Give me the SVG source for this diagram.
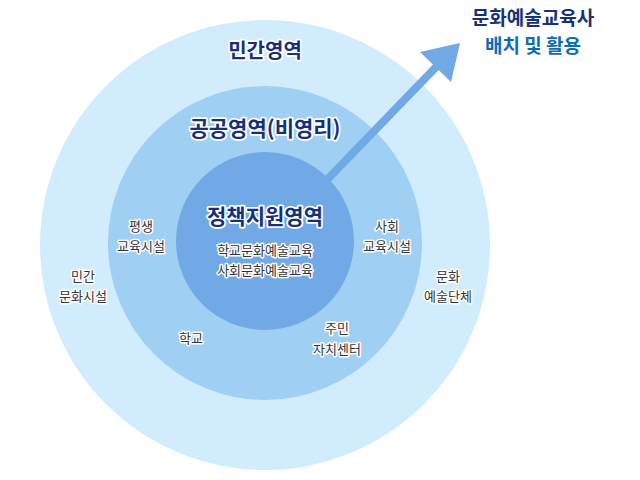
<svg xmlns="http://www.w3.org/2000/svg" width="640" height="480" viewBox="0 0 640 480">
<style>
text{font-family:"Noto Sans CJK KR","Noto Sans",sans-serif;text-anchor:middle;paint-order:stroke;stroke:#fff;stroke-linejoin:round}
.h{font-size:20px;font-weight:700;fill:#17307a;stroke-width:3.5}
.s{font-size:13px;fill:#333;stroke-width:3}
.t{font-size:19px;font-weight:700;stroke:none}
</style>
<rect width="640" height="480" fill="#fff"/>
<g id="outer"><circle cx="265" cy="245" r="225" fill="#d1edfd"/><text class="h" x="265" y="58">민간영역</text></g>
<g id="middle"><circle cx="265" cy="243" r="157" fill="#9fd0f3"/><text class="h" x="265" y="136" style="font-size:21px">공공영역(비영리)</text></g>
<g id="connectors">
<line x1="320" y1="187" x2="438" y2="65" stroke="#70a9e6" stroke-width="8"/>
<polygon points="460,43 451,82 420,52" fill="#70a9e6"/>
</g>
<g id="inner"><circle cx="265" cy="241" r="89" fill="#70a9e6"/>
<text class="h" x="265" y="224" style="font-size:21px">정책지원영역</text>
<text class="s" x="265" y="255">학교문화예술교육</text>
<text class="s" x="265" y="275">사회문화예술교육</text></g>
<g id="lbl1"><text class="s" x="141" y="231">평생</text><text class="s" x="141" y="251">교육시설</text></g>
<g id="lbl2"><text class="s" x="83" y="281">민간</text><text class="s" x="83" y="301">문화시설</text></g>
<g id="lbl3"><text class="s" x="387" y="231">사회</text><text class="s" x="387" y="251">교육시설</text></g>
<g id="lbl4"><text class="s" x="448" y="281">문화</text><text class="s" x="448" y="301">예술단체</text></g>
<g id="lbl5"><text class="s" x="191" y="343">학교</text></g>
<g id="lbl6"><text class="s" x="337" y="333">주민</text><text class="s" x="337" y="354">자치센터</text></g>
<g id="title"><text class="t" x="533" y="25" fill="#17307a">문화예술교육사</text><text class="t" x="533" y="53" fill="#0b6db3">배치 및 활용</text></g>
</svg>
